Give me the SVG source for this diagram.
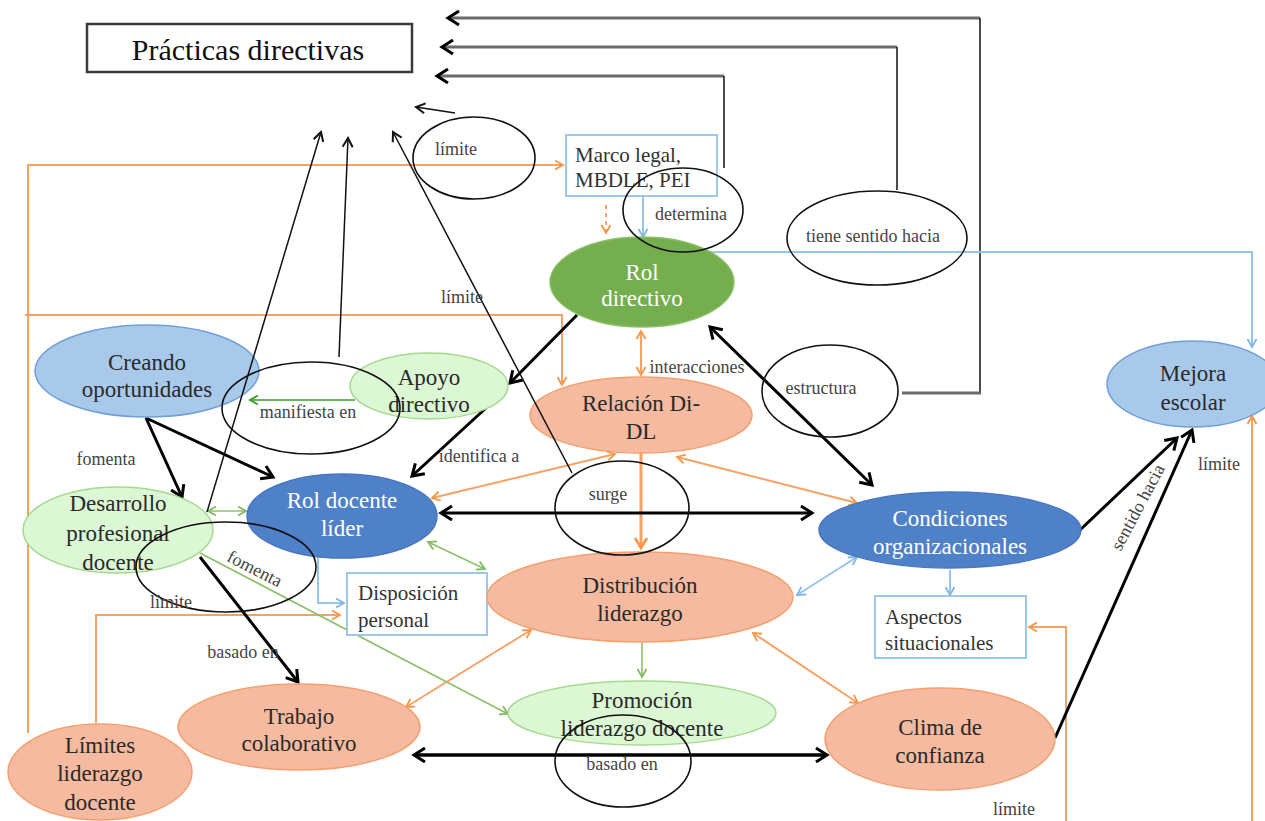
<svg xmlns="http://www.w3.org/2000/svg" width="1265" height="821" viewBox="0 0 1265 821">
  <defs>
    <style>
      text { font-family: "Liberation Serif", "Times New Roman", serif; }
      .n { font-size: 23px; fill: #2a2a2a; text-anchor: middle; }
      .w { font-size: 23px; fill: #ffffff; text-anchor: middle; }
      .b { font-size: 21px; fill: #333333; }
      .l { font-size: 18px; fill: #444444; text-anchor: middle; }
      .t { font-size: 30px; fill: #111111; text-anchor: middle; }
      .oe { fill: #F5BA9F; stroke: #F4A06E; stroke-width: 1.5; }
      .be { fill: #4F81C8; stroke: #4877C2; stroke-width: 1.5; }
      .lb { fill: #A8C9EA; stroke: #6FA0D8; stroke-width: 1.5; }
      .ge { fill: #74AE4E; stroke: #8BC16A; stroke-width: 1.5; }
      .lg { fill: #DCF7D4; stroke: #A6D88F; stroke-width: 1.5; }
      .bx { fill: #ffffff; stroke: #9DC8EA; stroke-width: 2; }
      .ring { fill: none; stroke: #111111; stroke-width: 1.6; }
      .k3 { fill: none; stroke: #000000; stroke-width: 3; }
      .k1 { fill: none; stroke: #111111; stroke-width: 1.5; }
      .gr { fill: none; stroke: #6b6b6b; stroke-width: 3; }
      .or { fill: none; stroke: #F8A164; stroke-width: 2; }
      .bl { fill: none; stroke: #95C5EA; stroke-width: 2; }
      .gn { fill: none; stroke: #8CC06A; stroke-width: 1.6; }
    </style>
    <marker id="mk3" markerUnits="userSpaceOnUse" markerWidth="20" markerHeight="20" refX="16" refY="10" orient="auto-start-reverse" overflow="visible">
      <path d="M5,3 L16,10 L5,17" fill="none" stroke="#000" stroke-width="3"/>
    </marker>
    <marker id="mk1" markerUnits="userSpaceOnUse" markerWidth="14" markerHeight="14" refX="12" refY="7" orient="auto-start-reverse" overflow="visible">
      <path d="M3,2 L12,7 L3,12" fill="none" stroke="#111" stroke-width="2"/>
    </marker>
    <marker id="mko" markerUnits="userSpaceOnUse" markerWidth="12" markerHeight="12" refX="10" refY="6" orient="auto-start-reverse" overflow="visible">
      <path d="M2,1.5 L10,6 L2,10.5" fill="none" stroke="#F79646" stroke-width="1.8"/>
    </marker>
    <marker id="mko3" markerUnits="userSpaceOnUse" markerWidth="16" markerHeight="16" refX="13" refY="8" orient="auto-start-reverse" overflow="visible">
      <path d="M3,2 L13,8 L3,14" fill="none" stroke="#F79646" stroke-width="2.6"/>
    </marker>
    <marker id="mkb" markerUnits="userSpaceOnUse" markerWidth="12" markerHeight="12" refX="10" refY="6" orient="auto-start-reverse" overflow="visible">
      <path d="M2,1.5 L10,6 L2,10.5" fill="none" stroke="#7FB6E6" stroke-width="1.8"/>
    </marker>
    <marker id="mkg" markerUnits="userSpaceOnUse" markerWidth="12" markerHeight="12" refX="10" refY="6" orient="auto-start-reverse" overflow="visible">
      <path d="M2,1.5 L10,6 L2,10.5" fill="none" stroke="#84B963" stroke-width="1.8"/>
    </marker>
    <marker id="mkgd" markerUnits="userSpaceOnUse" markerWidth="12" markerHeight="12" refX="10" refY="6" orient="auto-start-reverse" overflow="visible">
      <path d="M2,1.5 L10,6 L2,10.5" fill="none" stroke="#3C9B2E" stroke-width="1.8"/>
    </marker>
  </defs>

  <rect width="1265" height="821" fill="#ffffff"/>

  <!-- connectors -->
  <g id="connectors">
    <!-- long return lines towards the top box -->
    <path class="gr" d="M980,18 H448" marker-end="url(#mk3)"/>
    <path class="k1" d="M980,18 V393"/>
    <path class="gr" d="M902,393 H981"/>
    <path class="gr" d="M897,47 H442" marker-end="url(#mk3)"/>
    <path class="k1" d="M897,47 V190"/>
    <path class="gr" d="M724,76 H437" marker-end="url(#mk3)"/>
    <path class="k1" d="M724,76 V168"/>

    <!-- orange links -->
    <path class="or" d="M28,733 V165 H563" marker-end="url(#mko)"/>
    <path class="or" d="M25,315 H562 V385" marker-end="url(#mko)"/>
    <path class="or" d="M96,723 V615 H340" marker-end="url(#mko)"/>
    <path class="or" d="M1066,821 V627 H1029" marker-end="url(#mko)"/>
    <path class="or" d="M1252,821 V416" marker-end="url(#mko)"/>
    <path class="or" d="M641,331 V375" marker-start="url(#mko)" marker-end="url(#mko)"/>
    <path class="or" d="M641,452 V548" style="stroke-width:3" marker-end="url(#mko3)"/>
    <path class="or" d="M615,454 L432,498" marker-start="url(#mko)" marker-end="url(#mko)"/>
    <path class="or" d="M677,457 L857,503" marker-start="url(#mko)" marker-end="url(#mko)"/>
    <path class="or" d="M531,630 L406,707" marker-start="url(#mko)" marker-end="url(#mko)"/>
    <path class="or" d="M753,633 L858,703" marker-start="url(#mko)" marker-end="url(#mko)"/>
    <path class="or" d="M606,205 V233" stroke-dasharray="4,4" marker-end="url(#mko)"/>

    <!-- blue links -->
    <path class="bl" d="M643,196 V237" marker-end="url(#mkb)"/>
    <path class="bl" d="M705,252 H1252 V347" marker-end="url(#mkb)"/>
    <path class="bl" d="M318,556 V603 H344" marker-end="url(#mkb)"/>
    <path class="bl" d="M857,557 L797,595" marker-start="url(#mkb)" marker-end="url(#mkb)"/>
    <path class="bl" d="M950,570 V595" marker-end="url(#mkb)"/>

    <!-- green links -->
    <path class="gn" d="M355,400 H250" style="stroke:#3C9B2E" marker-end="url(#mkgd)"/>
    <path class="gn" d="M208,511 H246" marker-start="url(#mkg)" marker-end="url(#mkg)"/>
    <path class="gn" d="M428,542 L485,569" marker-start="url(#mkg)" marker-end="url(#mkg)"/>
    <path class="gn" d="M200,553 L508,714" marker-end="url(#mkg)"/>
    <path class="gn" d="M642,643 V677" marker-end="url(#mkg)"/>

    <!-- thick black links -->
    <path class="k3" d="M577,315 L510,383" marker-end="url(#mk3)"/>
    <path class="k3" d="M486,408 L412,476" marker-end="url(#mk3)"/>
    <path class="k3" d="M146,418 L273,477" marker-end="url(#mk3)"/>
    <path class="k3" d="M146,418 L182,497" marker-end="url(#mk3)"/>
    <path class="k3" d="M710,327 L872,485" marker-start="url(#mk3)" marker-end="url(#mk3)"/>
    <path class="k3" d="M441,513 L812,513" marker-start="url(#mk3)" marker-end="url(#mk3)"/>
    <path class="k3" d="M200,557 L298,682" marker-end="url(#mk3)"/>
    <path class="k3" d="M414,755 L827,755" style="stroke-width:3.5" marker-start="url(#mk3)" marker-end="url(#mk3)"/>
    <path class="k3" d="M1080,530 L1177,438" marker-end="url(#mk3)"/>
    <path class="k3" d="M1055,738 L1192,430" marker-end="url(#mk3)"/>
  </g>

  <!-- nodes -->
  <g id="practicas-directivas">
    <rect x="87" y="24" width="325" height="48" fill="#fff" stroke="#3a3a3a" stroke-width="2.5"/>
    <text class="t" x="248" y="60">Prácticas directivas</text>
  </g>
  <g id="marco-legal">
    <rect class="bx" x="566" y="135" width="151" height="61"/>
    <text class="b" x="575" y="162">Marco legal,</text>
    <text class="b" x="575" y="187">MBDLE, PEI</text>
  </g>
  <g id="rol-directivo">
    <ellipse class="ge" cx="642" cy="282" rx="92" ry="45"/>
    <text class="w" x="642" y="280">Rol</text>
    <text class="w" x="642" y="306">directivo</text>
  </g>
  <g id="creando-oportunidades">
    <ellipse class="lb" cx="147" cy="371" rx="112" ry="46"/>
    <text class="n" x="147" y="370">Creando</text>
    <text class="n" x="147" y="397">oportunidades</text>
  </g>
  <g id="apoyo-directivo">
    <ellipse class="lg" cx="429" cy="386" rx="79" ry="33"/>
    <text class="n" x="429" y="385">Apoyo</text>
    <text class="n" x="429" y="412">directivo</text>
  </g>
  <g id="relacion-di-dl">
    <ellipse class="oe" cx="641" cy="415" rx="111" ry="38"/>
    <text class="n" x="641" y="411">Relación Di-</text>
    <text class="n" x="641" y="439">DL</text>
  </g>
  <g id="mejora-escolar">
    <ellipse class="lb" cx="1193" cy="384" rx="86" ry="43"/>
    <text class="n" x="1193" y="381">Mejora</text>
    <text class="n" x="1193" y="410">escolar</text>
  </g>
  <g id="desarrollo-profesional">
    <ellipse class="lg" cx="118" cy="530" rx="95" ry="43"/>
    <text class="n" x="118" y="511">Desarrollo</text>
    <text class="n" x="118" y="541">profesional</text>
    <text class="n" x="118" y="570">docente</text>
  </g>
  <g id="rol-docente-lider">
    <ellipse class="be" cx="342" cy="516" rx="95" ry="42"/>
    <text class="w" x="342" y="508">Rol docente</text>
    <text class="w" x="342" y="536">líder</text>
  </g>
  <g id="condiciones-organizacionales">
    <ellipse class="be" cx="950" cy="530" rx="131" ry="38"/>
    <text class="w" x="950" y="526">Condiciones</text>
    <text class="w" x="950" y="554">organizacionales</text>
  </g>
  <g id="disposicion-personal">
    <rect class="bx" x="347" y="573" width="140" height="62"/>
    <text class="b" x="358" y="600">Disposición</text>
    <text class="b" x="358" y="627">personal</text>
  </g>
  <g id="distribucion-liderazgo">
    <ellipse class="oe" cx="640" cy="597" rx="153" ry="45"/>
    <text class="n" x="640" y="593">Distribución</text>
    <text class="n" x="640" y="621">liderazgo</text>
  </g>
  <g id="aspectos-situacionales">
    <rect class="bx" x="875" y="596" width="151" height="62"/>
    <text class="b" x="885" y="624">Aspectos</text>
    <text class="b" x="885" y="650">situacionales</text>
  </g>
  <g id="promocion-liderazgo">
    <ellipse class="lg" cx="642" cy="713" rx="134" ry="32"/>
    <text class="n" x="642" y="708">Promoción</text>
    <text class="n" x="642" y="736">liderazgo docente</text>
  </g>
  <g id="trabajo-colaborativo">
    <ellipse class="oe" cx="299" cy="727" rx="121" ry="43"/>
    <text class="n" x="299" y="724">Trabajo</text>
    <text class="n" x="299" y="751">colaborativo</text>
  </g>
  <g id="clima-confianza">
    <ellipse class="oe" cx="940" cy="739" rx="115" ry="51"/>
    <text class="n" x="940" y="735">Clima de</text>
    <text class="n" x="940" y="763">confianza</text>
  </g>
  <g id="limites-liderazgo">
    <ellipse class="oe" cx="100" cy="772" rx="92" ry="48"/>
    <text class="n" x="100" y="753">Límites</text>
    <text class="n" x="100" y="781">liderazgo</text>
    <text class="n" x="100" y="810">docente</text>
  </g>

  <!-- thin arrows up to the practices box -->
  <g id="connectors-practicas">
    <path class="k1" d="M207,512 L321,132" marker-end="url(#mk1)"/>
    <path class="k1" d="M339,357 L348,138" marker-end="url(#mk1)"/>
    <path class="k1" d="M572,473 L393,132" marker-end="url(#mk1)"/>
    <path class="k1" d="M455,113 L416,107" marker-end="url(#mk1)"/>
  </g>

  <!-- edge labels with their rings -->
  <g id="edge-labels">
    <ellipse class="ring" cx="474" cy="158" rx="61" ry="41"/>
    <ellipse class="ring" cx="683" cy="210" rx="60" ry="42"/>
    <ellipse class="ring" cx="877" cy="238" rx="90" ry="47"/>
    <ellipse class="ring" cx="311" cy="408" rx="89" ry="46"/>
    <ellipse class="ring" cx="830" cy="391" rx="68" ry="46"/>
    <ellipse class="ring" cx="622" cy="508" rx="67" ry="47"/>
    <ellipse class="ring" cx="226" cy="567" rx="90" ry="45"/>
    <ellipse class="ring" cx="623" cy="761" rx="68" ry="46"/>

    <text class="l" x="456" y="155">límite</text>
    <text class="l" x="691" y="220">determina</text>
    <text class="l" x="873" y="242">tiene sentido hacia</text>
    <text class="l" x="462" y="303">límite</text>
    <text class="l" x="697" y="373">interacciones</text>
    <text class="l" x="821" y="394">estructura</text>
    <text class="l" x="308" y="418">manifiesta en</text>
    <text class="l" x="479" y="462">identifica a</text>
    <text class="l" x="106" y="465">fomenta</text>
    <text class="l" x="608" y="500">surge</text>
    <text class="l" transform="translate(252,574) rotate(27)">fomenta</text>
    <text class="l" x="171" y="608">límite</text>
    <text class="l" x="243" y="658">basado en</text>
    <text class="l" x="622" y="770">basado en</text>
    <text class="l" transform="translate(1143,510) rotate(-62)">sentido hacia</text>
    <text class="l" x="1219" y="470">límite</text>
    <text class="l" x="1014" y="815">límite</text>
  </g>
</svg>
